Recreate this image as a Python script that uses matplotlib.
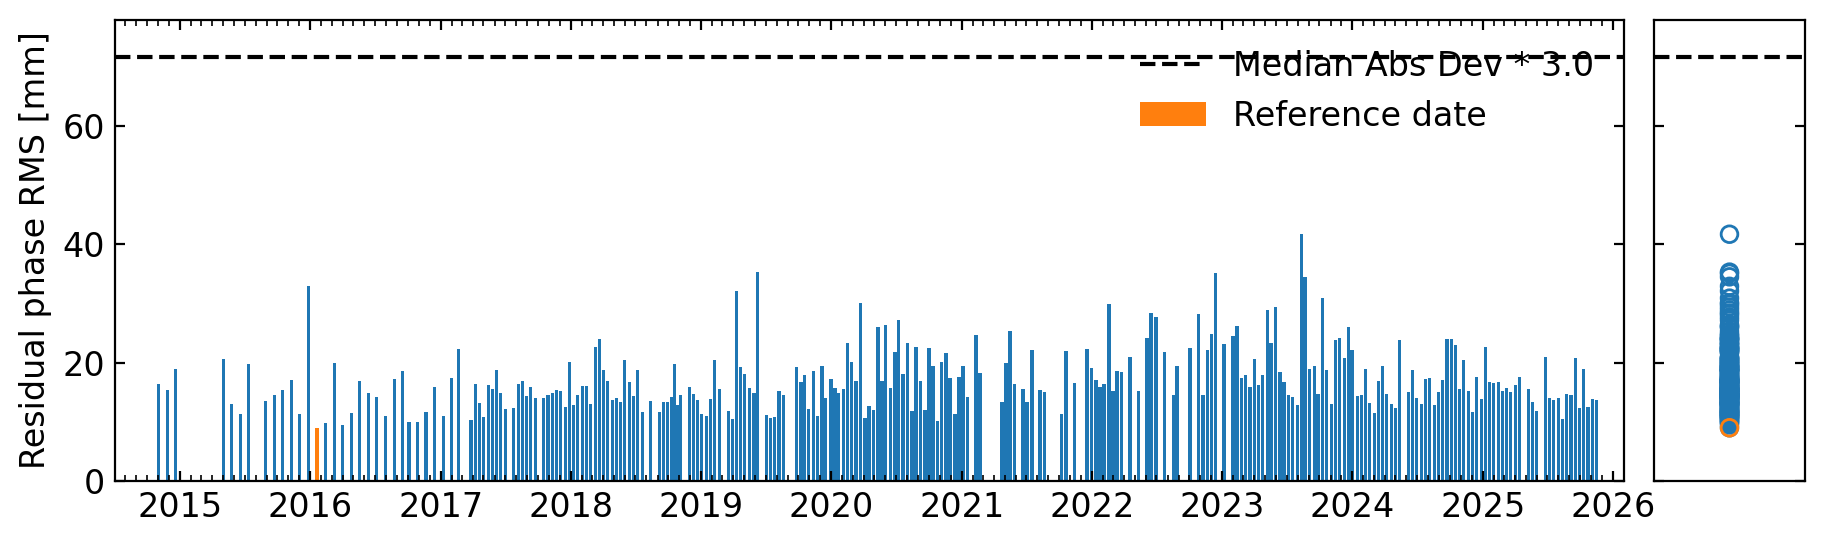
"""
Residual phase RMS per epoch, with reference date and MAD threshold
"""

import numpy as np
import pandas as pd
import matplotlib
matplotlib.use("Agg")
import matplotlib.pyplot as plt
import matplotlib.dates as mdates

# ─────────────────────────────────────────────
# DATA
# ─────────────────────────────────────────────

# epoch as decimal year
epoch_year = [
    2014.836, 2014.905, 2014.966, 2015.333, 2015.396, 2015.463, 2015.527, 2015.657,
    2015.727, 2015.788, 2015.857, 2015.919, 2015.988, 2016.052, 2016.118, 2016.185,
    2016.249, 2016.318, 2016.379, 2016.449, 2016.510,
    2016.579, 2016.644, 2016.710, 2016.759, 2016.825, 2016.889, 2016.955, 2017.025,
    2017.086, 2017.140, 2017.235, 2017.270, 2017.301, 2017.332, 2017.366, 2017.401,
    2017.432, 2017.462, 2017.501, 2017.562, 2017.596, 2017.631, 2017.662, 2017.693,
    2017.727, 2017.793, 2017.826, 2017.862, 2017.892, 2017.923, 2017.957, 2017.992,
    2018.023, 2018.054, 2018.092, 2018.123, 2018.154, 2018.187, 2018.223, 2018.253,
    2018.284, 2018.318, 2018.353, 2018.384, 2018.415, 2018.453, 2018.484, 2018.515,
    2018.548, 2018.614, 2018.679, 2018.714, 2018.745, 2018.776, 2018.797, 2018.817,
    2018.845, 2018.912, 2018.945, 2018.975, 2019.006, 2019.045, 2019.075, 2019.106,
    2019.142, 2019.209, 2019.240, 2019.270, 2019.306, 2019.336, 2019.370, 2019.406,
    2019.436, 2019.501, 2019.536, 2019.567, 2019.598, 2019.636, 2019.731, 2019.767,
    2019.797, 2019.828, 2019.862, 2019.897, 2019.928, 2019.958, 2019.997, 2020.028,
    2020.058, 2020.092, 2020.127, 2020.158, 2020.189, 2020.223, 2020.258, 2020.289,
    2020.323, 2020.358, 2020.389, 2020.419, 2020.453, 2020.489, 2020.515,
    2020.550, 2020.588, 2020.619, 2020.650, 2020.684, 2020.719, 2020.750, 2020.780,
    2020.814, 2020.849, 2020.880, 2020.911, 2020.949, 2020.980, 2021.011, 2021.045,
    2021.111, 2021.141, 2021.310, 2021.341, 2021.372, 2021.406, 2021.472, 2021.502,
    2021.541, 2021.602, 2021.638, 2021.767, 2021.802, 2021.866, 2021.963, 2021.997,
    2022.032, 2022.063, 2022.094, 2022.132, 2022.163, 2022.194, 2022.227, 2022.293,
    2022.358, 2022.424, 2022.455, 2022.493,
    2022.555, 2022.624, 2022.654, 2022.754, 2022.819, 2022.854, 2022.885, 2022.916,
    2022.949, 2023.015, 2023.084, 2023.115, 2023.146, 2023.180, 2023.215, 2023.246,
    2023.277, 2023.310, 2023.346, 2023.376, 2023.407, 2023.445, 2023.476, 2023.507,
    2023.541, 2023.576, 2023.607, 2023.637, 2023.671, 2023.707, 2023.737, 2023.771,
    2023.804, 2023.837, 2023.868, 2023.904, 2023.937, 2023.968, 2023.998, 2024.037,
    2024.068, 2024.098, 2024.132, 2024.167, 2024.198, 2024.229, 2024.263, 2024.298,
    2024.329, 2024.363, 2024.429, 2024.459, 2024.493,
    2024.528, 2024.559, 2024.590, 2024.628, 2024.659, 2024.690, 2024.726, 2024.759,
    2024.790, 2024.820, 2024.854, 2024.889, 2024.920, 2024.951, 2024.989, 2025.020,
    2025.051, 2025.084, 2025.120, 2025.150, 2025.181, 2025.215, 2025.250, 2025.281,
    2025.350, 2025.381, 2025.412, 2025.481, 2025.512, 2025.542, 2025.581, 2025.611,
    2025.642, 2025.678, 2025.711, 2025.742, 2025.773, 2025.809, 2025.842, 2025.873,
]

# residual phase RMS [mm]
rms_mm = [
    16.4, 15.4, 18.9, 20.6, 13.0, 11.3, 19.8, 13.5,
    14.5, 15.4, 17.1, 11.3, 32.9, 9.0, 9.8, 19.9,
    9.5, 11.5, 16.9, 14.9, 14.2,
    11.0, 17.2, 18.6, 10.0, 10.0, 11.7, 15.9, 11.0,
    17.4, 22.3, 10.3, 16.4, 13.2, 10.8, 16.2, 15.5,
    18.8, 14.9, 12.2, 12.3, 16.4, 16.9, 14.4, 15.9,
    14.0, 14.0, 14.5, 14.9, 15.4, 15.2, 12.5, 20.1,
    12.8, 14.5, 16.0, 16.0, 13.0, 22.6, 24.0, 18.8,
    16.9, 13.7, 14.0, 13.3, 20.4, 16.7, 14.4, 18.8,
    11.7, 13.5, 11.7, 13.3, 13.3, 14.2, 19.8, 12.8,
    14.5, 15.9, 14.7, 13.7, 11.3, 11.0, 13.9, 20.4,
    15.5, 11.8, 10.5, 32.1, 19.3, 18.1, 15.7, 14.9,
    35.3, 11.1, 10.6, 10.8, 15.2, 14.5, 19.3, 16.7,
    17.9, 12.2, 18.6, 11.0, 19.4, 14.0, 17.2, 15.7,
    14.9, 15.5, 23.3, 20.1, 16.9, 30.1, 10.6, 12.7,
    12.0, 26.0, 16.9, 26.4, 15.7, 21.8, 27.2,
    18.1, 23.3, 11.8, 22.6, 16.9, 12.0, 22.5, 19.4,
    10.1, 20.1, 21.6, 17.4, 11.3, 17.6, 19.4, 14.2,
    24.7, 18.2, 13.3, 19.9, 25.3, 16.4, 15.5, 13.3,
    22.1, 15.4, 15.0, 11.3, 22.0, 16.6, 22.3, 19.1,
    17.1, 15.9, 16.4, 29.9, 15.2, 18.6, 18.4, 20.9,
    15.2, 24.2, 28.4, 27.7,
    21.8, 14.5, 19.4, 22.5, 28.2, 14.5, 22.1, 24.8,
    35.1, 23.1, 24.5, 26.2, 17.4, 17.9, 15.9, 20.6,
    16.2, 17.9, 28.9, 23.3, 29.4, 18.4, 16.7, 14.5,
    14.2, 12.8, 41.7, 34.5, 18.9, 19.4, 14.7, 30.9,
    18.8, 13.0, 23.8, 24.2, 20.8, 26.0, 22.1, 14.4,
    14.5, 18.9, 13.2, 11.5, 16.9, 19.4, 14.7, 13.0,
    12.3, 23.8, 15.0, 18.8, 14.0,
    13.0, 17.2, 17.4, 12.8, 15.0, 17.1, 24.0, 24.0,
    23.0, 15.5, 20.4, 15.2, 11.7, 17.6, 13.9, 22.6,
    16.7, 16.6, 16.7, 15.2, 15.7, 15.0, 16.2, 17.6,
    15.5, 13.3, 11.8, 20.9, 14.0, 13.7, 14.0, 10.5,
    14.7, 14.5, 20.8, 12.3, 18.9, 12.5, 13.9, 13.7,
]

REF_YEAR      = 2016.052
MAD_THRESHOLD = 71.6     # median abs dev * 3.0
BAR_DAYS      = 9

# ─────────────────────────────────────────────
# PLOT
# ─────────────────────────────────────────────

def to_dates(years):
    years = np.asarray(years)
    base = pd.Timestamp("2015-01-01")
    return base + pd.to_timedelta((years - 2015.0) * 365.25, unit="D")

dates = to_dates(epoch_year)
vals = np.array(rms_mm)
is_ref = np.isclose(epoch_year, REF_YEAR)

plt.rcParams["font.size"] = 12

fig = plt.figure(figsize=(9.13, 2.725), dpi=200)
ax = fig.add_axes([0.0630, 0.1174, 0.8264, 0.8459])
ax2 = fig.add_axes([0.9058, 0.1174, 0.0827, 0.8459], sharey=ax)

line = ax.axhline(MAD_THRESHOLD, color="black", linestyle="--", lw=1.5,
                  label="Median Abs Dev * 3.0")
ax.bar(dates[~is_ref], vals[~is_ref], width=BAR_DAYS, color="C0")
ref_bar = ax.bar(dates[is_ref], vals[is_ref], width=BAR_DAYS, color="C1",
                 label="Reference date")

ax.set_xlim(pd.Timestamp("2014-07-03"), pd.Timestamp("2026-02-01"))
ax.set_ylim(0, 77.9)
ax.set_yticks([0, 20, 40, 60])
ax.xaxis.set_major_locator(mdates.YearLocator())
ax.xaxis.set_major_formatter(mdates.DateFormatter("%Y"))
ax.xaxis.set_minor_locator(mdates.MonthLocator())
ax.tick_params(which="both", direction="in", top=True, right=True)
ax.set_ylabel("Residual phase RMS [mm]")
ax.legend(handles=[line, ref_bar], loc="upper right", frameon=False)

# right panel: distribution of all epochs
ax2.axhline(MAD_THRESHOLD, color="black", linestyle="--", lw=1.5)
ax2.scatter(np.zeros(len(vals)), vals, facecolors="none", edgecolors="C0")
ax2.scatter(np.zeros(is_ref.sum()), vals[is_ref], facecolors="none", edgecolors="C1")
ax2.set_xlim(-1, 1)
ax2.set_xticks([])
ax2.tick_params(which="both", direction="in", left=True, right=True, labelleft=False)

fig.savefig("out.png", dpi=200)
